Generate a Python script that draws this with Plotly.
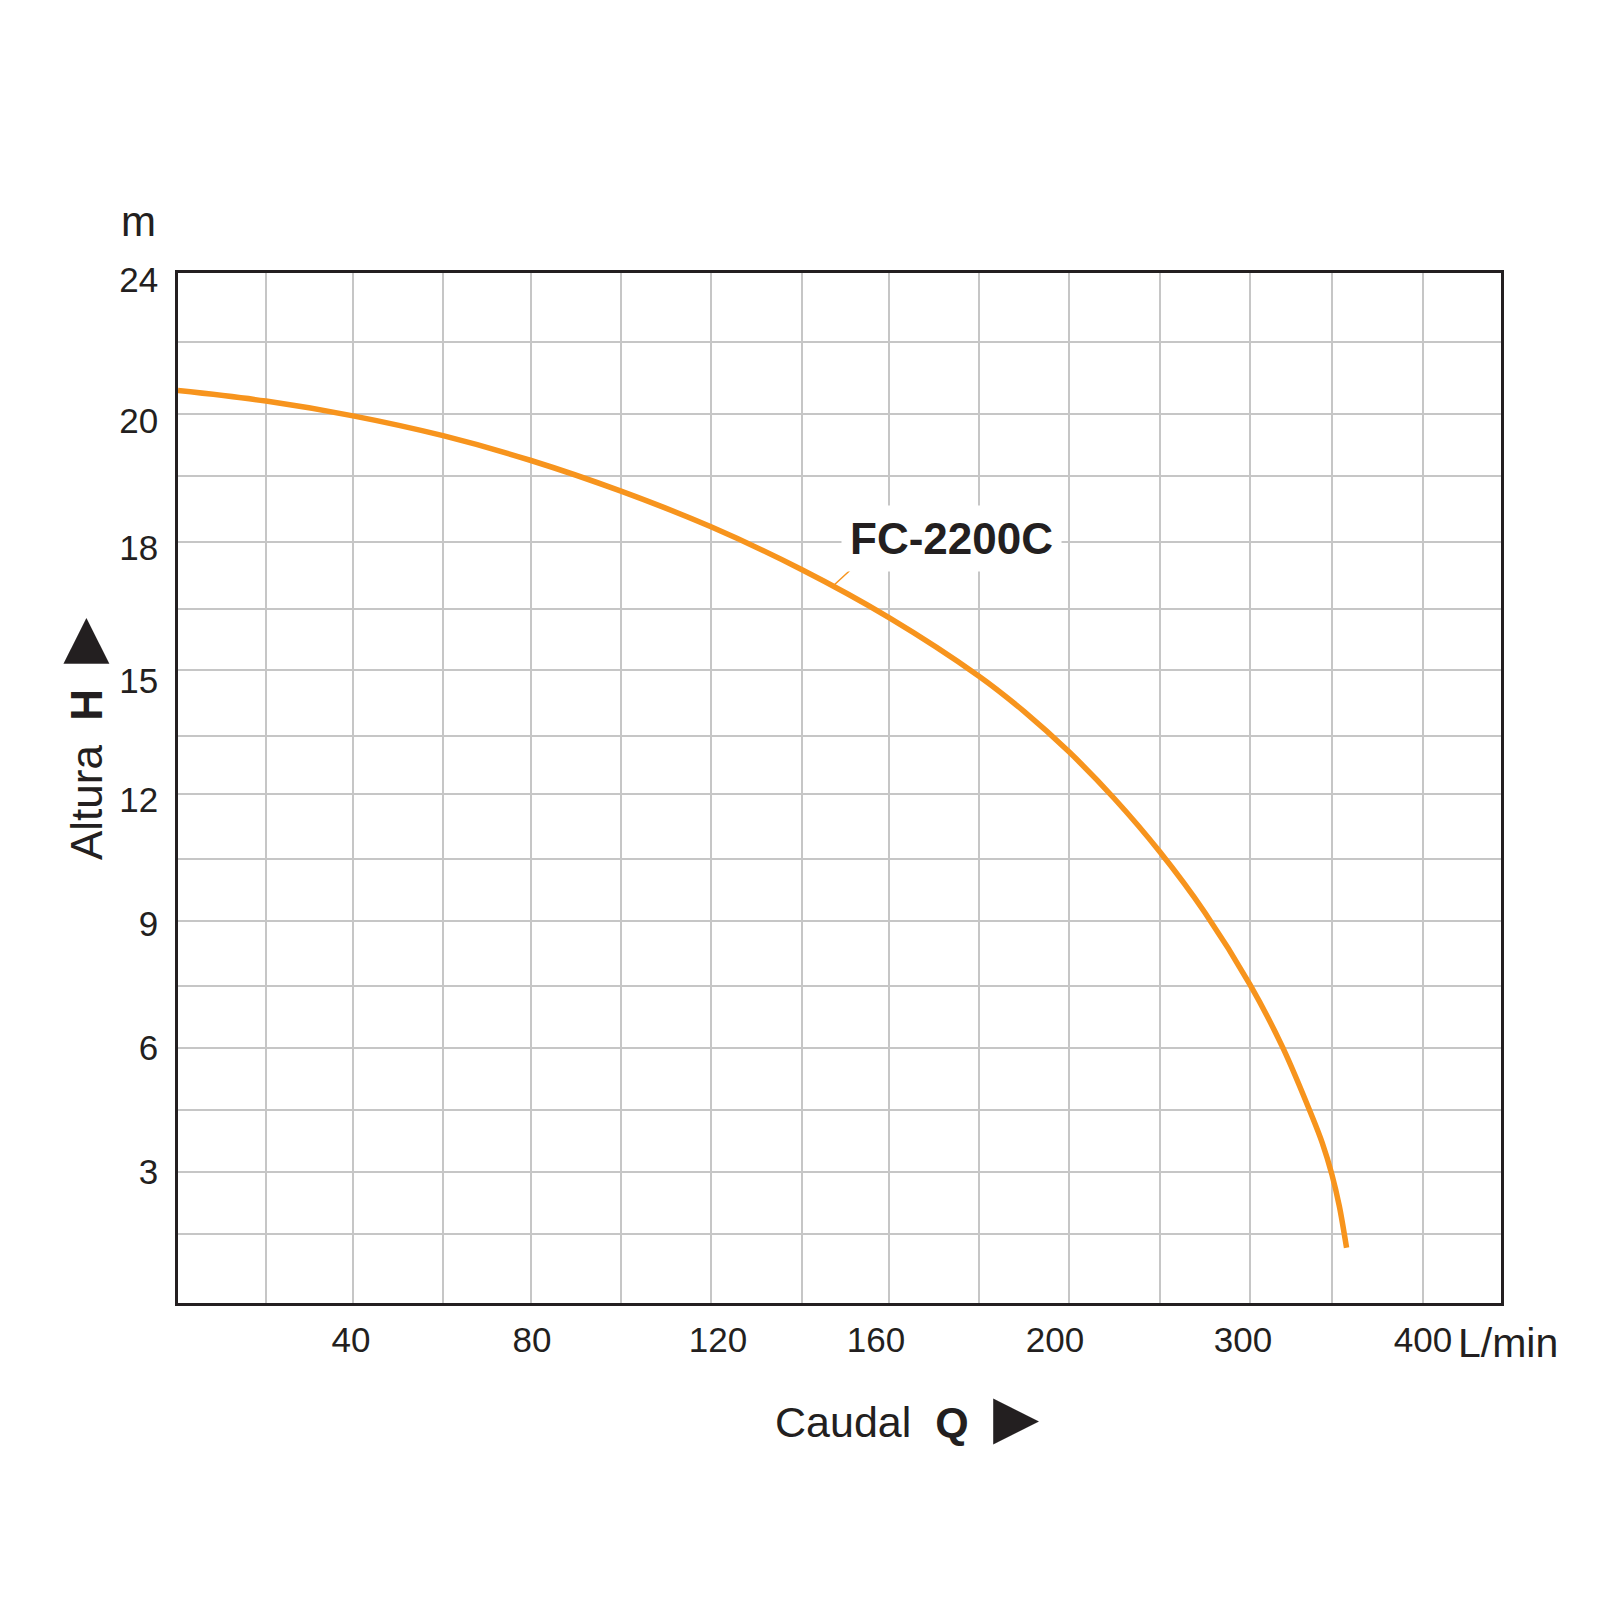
import numpy as np
import plotly.graph_objects as go

# axis scales (uneven steps, one label every two grid cells)
q_ticks = [0, 40, 80, 120, 160, 200, 300, 400]
h_ticks = [0, 3, 6, 9, 12, 15, 18, 20, 24]

# FC-2200C curve (L/min, m)
flow = [0, 20, 40, 60, 80, 100, 120, 140, 160, 180, 190, 200, 225, 250, 275, 300, 320, 338,
        344, 350, 354, 358]
head = [20.65, 20.36, 19.97, 19.65, 19.25, 18.77, 18.23, 17.38, 16.29, 14.86, 14.06, 13.09,
        11.89, 10.66, 9.20, 7.53, 6.01, 4.33, 3.71, 2.93, 2.18, 1.2]

model = "FC-2200C"
label_q = 147  # where the leader line touches the curve

# the drawn grid is slightly uneven: page pixels of every grid line
X_GRID = [178, 266, 353, 443, 531, 621, 711, 802, 889, 979, 1069, 1160, 1250, 1332, 1423, 1501]
Y_GRID = [1303, 1234, 1172, 1110, 1048, 986, 921, 859, 794, 736, 670, 609, 542, 476, 414, 342, 273]
# where the tick labels sit
X_LABEL_AT = [351, 532, 718, 876, 1055, 1243, 1423]
Y_LABEL_AT = [1172, 1048, 924, 800, 681, 548, 421, 280]

INK = "#231f20"
ORANGE = "#f7941d"
GRID = "#c6c6c6"
FONT = "Liberation Sans, Arial, sans-serif"

# the page body has an 8px default margin
PAGE_PAD = 8


def to_px_x(q):
    cell = np.interp(q, q_ticks, [2 * i for i in range(len(q_ticks))])
    return np.interp(cell, range(len(X_GRID)), X_GRID)


def to_px_y(h):
    cell = np.interp(h, h_ticks, [2 * i for i in range(len(h_ticks))])
    return np.interp(cell, range(len(Y_GRID)), Y_GRID)


def main():
    xs = to_px_x(flow)
    ys = to_px_y(head)

    fig = go.Figure()
    fig.add_trace(go.Scatter(
        x=xs, y=ys, mode="lines",
        line=dict(color=ORANGE, width=5.5, shape="spline", smoothing=0.9),
        hoverinfo="skip", showlegend=False,
    ))

    # leader line from the label to the curve
    tip_x = to_px_x(label_q)
    tip_y = np.interp(tip_x, xs, ys)
    fig.add_annotation(x=tip_x, y=tip_y, xref="x", yref="y", text=" ",
                       font=dict(size=2), showarrow=True, arrowhead=0,
                       arrowwidth=1.5, arrowcolor=ORANGE, ax=24, ay=-22)

    fig.add_annotation(x=951, y=538, xref="x", yref="y",
                       text="<b>" + model + "</b>", showarrow=False,
                       font=dict(family=FONT, size=44, color=INK),
                       bgcolor="white", borderpad=8)

    # units and axis titles
    fig.add_annotation(x=-0.030, y=1.05, xref="paper", yref="paper", text="m",
                       showarrow=False, xanchor="center", yanchor="middle",
                       font=dict(family=FONT, size=42, color=INK))
    fig.add_annotation(x=0.966, y=-0.039, xref="paper", yref="paper", text="L/min",
                       showarrow=False, xanchor="left", yanchor="middle",
                       font=dict(family=FONT, size=41, color=INK))
    fig.add_annotation(x=0.551, y=-0.110, xref="paper", yref="paper",
                       text="Caudal  <b>Q</b>  <span style='font-size:60px'>▶</span>",
                       showarrow=False, xanchor="center", yanchor="middle",
                       font=dict(family=FONT, size=43, color=INK))
    fig.add_annotation(x=-0.0725, y=0.5476, xref="paper", yref="paper",
                       text="Altura  <b>H</b>  <span style='font-size:60px'>▶</span>",
                       showarrow=False, textangle=-90,
                       xanchor="center", yanchor="middle",
                       font=dict(family=FONT, size=44, color=INK))

    axis_common = dict(
        showline=True, mirror=True, linecolor=INK, linewidth=2.5,
        showgrid=False, zeroline=False, ticks="",
        tickfont=dict(family=FONT, size=35, color=INK),
        fixedrange=True,
    )

    fig.update_xaxes(range=[X_GRID[0], X_GRID[-1]], tickmode="array",
                     tickvals=X_LABEL_AT, ticktext=[str(v) for v in q_ticks[1:]],
                     ticklabelstandoff=4,
                     minor=dict(tickmode="array", tickvals=X_GRID[1:-1], showgrid=True,
                                gridcolor=GRID, gridwidth=1.5, ticks=""),
                     **axis_common)
    fig.update_yaxes(range=[Y_GRID[0], Y_GRID[-1]], tickmode="array",
                     tickvals=Y_LABEL_AT, ticktext=[str(v) for v in h_ticks[1:]],
                     ticklabelstandoff=10,
                     minor=dict(tickmode="array", tickvals=Y_GRID[1:-1], showgrid=True,
                                gridcolor=GRID, gridwidth=1.5, ticks=""),
                     **axis_common)

    W = 1600 - PAGE_PAD
    H = 1600 - PAGE_PAD
    left, top = X_GRID[0] - PAGE_PAD, Y_GRID[-1] - PAGE_PAD
    right = W - (X_GRID[-1] - PAGE_PAD)
    bottom = H - (Y_GRID[0] - PAGE_PAD)

    fig.update_layout(
        width=W, height=H,
        margin=dict(l=left, r=right, t=top, b=bottom),
        paper_bgcolor="white", plot_bgcolor="white",
        font=dict(family=FONT, color=INK),
    )

    fig.write_html("out.html")


if __name__ == "__main__":
    main()
